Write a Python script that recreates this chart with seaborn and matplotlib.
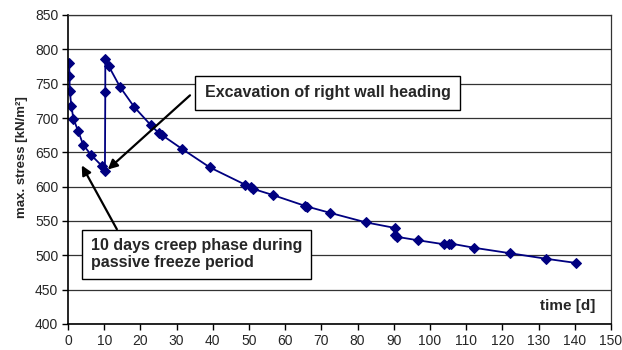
import numpy as np
import pandas as pd
import matplotlib
matplotlib.use("Agg")
import matplotlib.pyplot as plt
import seaborn as sns

# values
time_d = [0.3, 0.4, 0.5, 0.9, 1.5, 2.8, 4.2, 6.4, 9.4, 10.2, 10.3, 10.3, 11.2, 14.4,
          18.3, 22.8, 25.1, 26.0, 31.5, 39.2, 48.9, 50.5, 51.0, 56.5, 65.5, 66.1,
          72.3, 82.3, 90.2, 90.4, 90.8, 96.6, 104.0, 105.2, 105.9, 112.2, 122.2,
          132.1, 140.2]
max_stress = [780, 761, 739, 718, 699, 681, 661, 646, 630, 623, 738, 786, 776, 745,
              716, 690, 678, 675, 655, 628, 603, 600, 597, 588, 572, 571,
              562, 548, 540, 530, 527, 522, 516, 516, 517, 511, 503,
              495, 489]
x_ticks = list(range(0, 151, 10))
y_ticks = list(range(400, 851, 50))

note_excavation = "Excavation of right wall heading"
note_creep = "10 days creep phase during\npassive freeze period"

df = pd.DataFrame({"time": time_d, "stress": max_stress})

sns.set_style("white")
plt.rcParams['font.family'] = ['Liberation Sans', 'DejaVu Sans']

fig = plt.figure(figsize=(6.22, 3.5), dpi=100)
ax = fig.add_axes([68 / 622, 1 - 324 / 350, 543 / 622, 309 / 350])

sns.lineplot(data=df, x="time", y="stress", sort=False, estimator=None, ax=ax,
             color="#000080", marker="D", markersize=5.5, markeredgecolor="#000080",
             linewidth=1.3)

ax.set_xlim(0, 150)
ax.set_ylim(400, 850)
ax.set_xticks(x_ticks)
ax.set_yticks(y_ticks)
ax.tick_params(labelsize=10, length=4, width=1, direction="out", color="black",
               bottom=True, left=True, pad=3)
ax.yaxis.grid(True, color="#333333", linewidth=0.9)
ax.set_axisbelow(True)
for s in ["left", "bottom"]:
    ax.spines[s].set_color("black")
    ax.spines[s].set_linewidth(1.2)
for s in ["top", "right"]:
    ax.spines[s].set_color("#333333")
    ax.spines[s].set_linewidth(0.9)

ax.set_xlabel("")
ax.set_ylabel("max. stress [kN/m²]", fontsize=9.5, fontweight="bold")
ax.yaxis.set_label_coords(-0.074, 0.54)
ax.text(145.6, 426, "time [d]", ha="right", va="center", fontsize=11, fontweight="bold")

arrow = dict(arrowstyle="-|>", color="black", lw=1.6, mutation_scale=14, shrinkA=0, shrinkB=0)
ax.annotate("", xy=(11.0, 625), xytext=(33.7, 733), arrowprops=arrow)
ax.annotate("", xy=(3.8, 631), xytext=(13.5, 538), arrowprops=arrow)

ax.text(71.8, 737, note_excavation, ha="center", va="center", fontsize=11.5,
        fontweight="bold", zorder=5,
        bbox=dict(boxstyle="square,pad=0.6", fc="white", ec="black", lw=1))
ax.text(6.4, 501.5, note_creep, ha="left", va="center", fontsize=11.5,
        fontweight="bold", linespacing=1.15, zorder=5,
        bbox=dict(boxstyle="square,pad=0.55", fc="white", ec="black", lw=1))

fig.savefig("out.png", dpi=100)
